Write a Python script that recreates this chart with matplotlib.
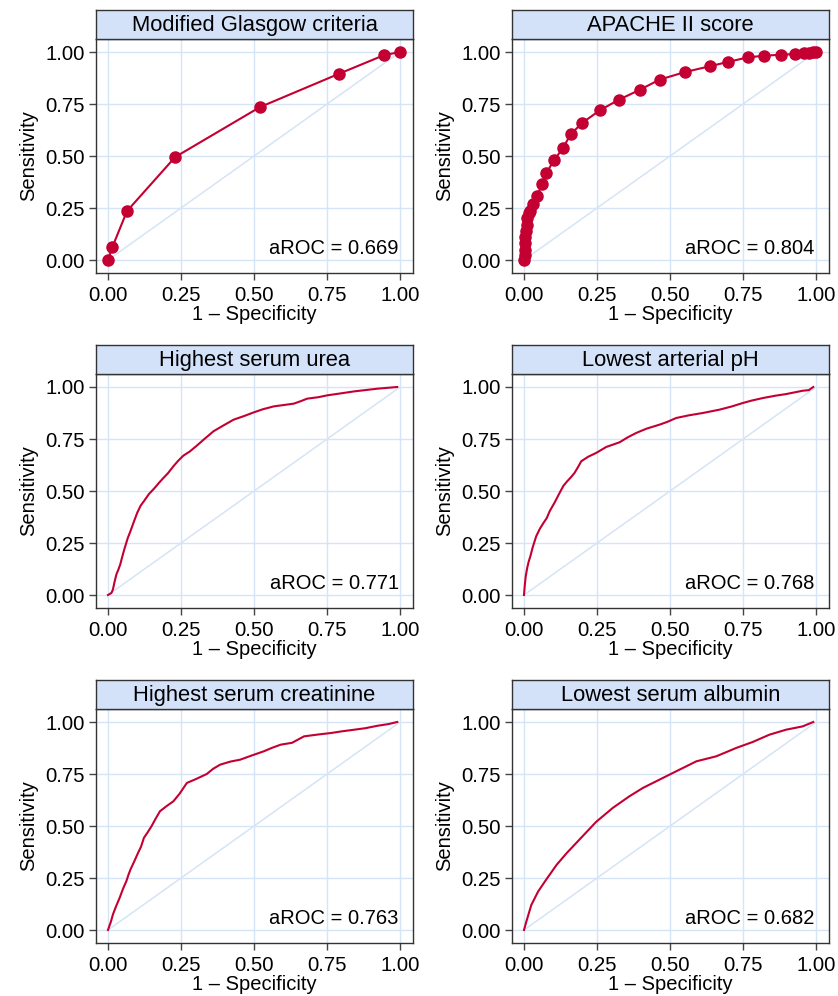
import matplotlib.pyplot as plt

plt.rcParams['font.family'] = ['Liberation Sans', 'DejaVu Sans']

LINE_RED = '#c40032'
GRID_BLUE = '#d6e4f7'
STRIP_BLUE = '#d3e2f9'

# Modified Glasgow criteria (discrete cut-points)
glasgow_fpr = [0.0, 0.015, 0.065, 0.23, 0.52, 0.79, 0.945, 1.0]
glasgow_tpr = [0.0, 0.062, 0.235, 0.495, 0.735, 0.895, 0.985, 1.0]

# APACHE II score (discrete cut-points)
apache_fpr = [0.0, 0.002, 0.003, 0.004, 0.005, 0.007, 0.009, 0.012, 0.016, 0.022,
              0.03, 0.046, 0.062, 0.076, 0.103, 0.133, 0.16, 0.2, 0.26, 0.324,
              0.396, 0.464, 0.552, 0.635, 0.70, 0.766, 0.82, 0.88, 0.926, 0.96,
              0.975, 0.988, 1.0]
apache_tpr = [0.0, 0.025, 0.05, 0.08, 0.11, 0.14, 0.17, 0.2, 0.225, 0.235,
              0.27, 0.31, 0.365, 0.417, 0.48, 0.537, 0.605, 0.66, 0.72, 0.77,
              0.818, 0.867, 0.904, 0.931, 0.953, 0.974, 0.982, 0.987, 0.99, 0.995,
              0.997, 0.999, 1.0]

# continuous markers
urea_fpr = [0.0, 0.012, 0.017, 0.022, 0.029, 0.035, 0.042, 0.05, 0.056, 0.061,
            0.068, 0.077, 0.088, 0.1, 0.112, 0.123, 0.14, 0.16, 0.175, 0.19,
            0.205, 0.224, 0.24, 0.258, 0.28, 0.304, 0.33, 0.361, 0.395, 0.43,
            0.465, 0.499, 0.53, 0.568, 0.6, 0.636, 0.66, 0.682, 0.72, 0.751,
            0.8, 0.843, 0.88, 0.923, 0.99]
urea_tpr = [0.0, 0.01, 0.027, 0.06, 0.1, 0.12, 0.147, 0.19, 0.22, 0.243,
            0.275, 0.307, 0.35, 0.395, 0.43, 0.451, 0.485, 0.515, 0.54, 0.563,
            0.585, 0.619, 0.645, 0.67, 0.69, 0.718, 0.75, 0.787, 0.815, 0.843,
            0.86, 0.878, 0.893, 0.907, 0.913, 0.92, 0.932, 0.944, 0.951, 0.96,
            0.97, 0.979, 0.985, 0.992, 1.0]

ph_fpr = [0.0, 0.003, 0.006, 0.011, 0.016, 0.022, 0.03, 0.042, 0.055, 0.067, 0.078,
          0.088, 0.105, 0.122, 0.135, 0.148, 0.16, 0.173, 0.185, 0.196, 0.22, 0.247,
          0.282, 0.327, 0.355, 0.384, 0.42, 0.464, 0.49, 0.521, 0.565, 0.612, 0.669,
          0.71, 0.749, 0.78, 0.818, 0.86, 0.897, 0.954, 0.975, 0.99]
ph_tpr = [0.0, 0.05, 0.09, 0.13, 0.16, 0.187, 0.23, 0.283, 0.32, 0.347, 0.37,
          0.403, 0.445, 0.491, 0.525, 0.547, 0.565, 0.587, 0.615, 0.643, 0.665, 0.683,
          0.712, 0.734, 0.758, 0.779, 0.8, 0.819, 0.832, 0.851, 0.864, 0.875, 0.891,
          0.906, 0.923, 0.935, 0.947, 0.958, 0.966, 0.982, 0.985, 1.0]

creat_fpr = [0.0, 0.01, 0.017, 0.028, 0.04, 0.052, 0.063, 0.07, 0.077, 0.09, 0.103,
             0.113, 0.123, 0.136, 0.149, 0.163, 0.178, 0.2, 0.224, 0.245, 0.27, 0.3,
             0.338, 0.36, 0.384, 0.42, 0.453, 0.49, 0.533, 0.56, 0.591, 0.63, 0.671,
             0.72, 0.763, 0.8, 0.843, 0.88, 0.923, 0.96, 0.99]
creat_tpr = [0.0, 0.04, 0.075, 0.115, 0.155, 0.2, 0.235, 0.265, 0.291, 0.33, 0.371,
             0.4, 0.443, 0.47, 0.499, 0.535, 0.571, 0.595, 0.619, 0.655, 0.707, 0.725,
             0.75, 0.775, 0.795, 0.81, 0.819, 0.838, 0.859, 0.875, 0.891, 0.9, 0.931,
             0.94, 0.947, 0.955, 0.963, 0.97, 0.982, 0.99, 1.0]

alb_fpr = [0.0, 0.008, 0.025, 0.048, 0.071, 0.111, 0.145, 0.19, 0.247, 0.304, 0.361,
           0.407, 0.464, 0.521, 0.59, 0.658, 0.726, 0.783, 0.84, 0.897, 0.954, 0.99]
alb_tpr = [0.0, 0.04, 0.12, 0.184, 0.232, 0.312, 0.368, 0.435, 0.52, 0.587, 0.643,
           0.683, 0.723, 0.763, 0.811, 0.835, 0.875, 0.904, 0.939, 0.963, 0.979, 1.0]

titles = ['Modified Glasgow criteria', 'APACHE II score',
          'Highest serum urea', 'Lowest arterial pH',
          'Highest serum creatinine', 'Lowest serum albumin']
arocs = ['0.669', '0.804', '0.771', '0.768', '0.763', '0.682']
curves = [(glasgow_fpr, glasgow_tpr), (apache_fpr, apache_tpr),
          (urea_fpr, urea_tpr), (ph_fpr, ph_tpr),
          (creat_fpr, creat_tpr), (alb_fpr, alb_tpr)]
with_markers = [True, True, False, False, False, False]

W, H = 838, 996
fig = plt.figure(figsize=(W / 100, H / 100), dpi=100)

col_px = [(96, 413), (512, 829)]
row_px = [(10, 39, 273), (345, 374, 608), (680, 709, 943)]
ticks = [0, 0.25, 0.5, 0.75, 1.0]

for i, title in enumerate(titles):
    r, c = divmod(i, 2)
    x0, x1 = col_px[c]
    st, pt, pb = row_px[r]
    ax = fig.add_axes([x0 / W, 1 - pb / H, (x1 - x0) / W, (pb - pt) / H])
    strip = fig.add_axes([x0 / W, 1 - pt / H, (x1 - x0) / W, (pt - st) / H])
    strip.set_facecolor(STRIP_BLUE)
    strip.set_xticks([])
    strip.set_yticks([])
    for s in strip.spines.values():
        s.set_color('#333333')
        s.set_linewidth(1.0)
    strip.text(0.5, 0.48, title, ha='center', va='center', fontsize=15.8,
               transform=strip.transAxes)

    ax.plot([0, 1], [0, 1], color=GRID_BLUE, lw=1.1, zorder=1)
    fpr, tpr = curves[i]
    if with_markers[i]:
        ax.plot(fpr, tpr, color=LINE_RED, lw=1.5, marker='o', markersize=8,
                zorder=3)
    else:
        ax.plot(fpr, tpr, color=LINE_RED, lw=1.5, zorder=3)
    ax.text(0.995, 0.055, f'aROC = {arocs[i]}', ha='right', va='center',
            fontsize=14.5)

    ax.set_xlim(-0.041, 1.044)
    ax.set_ylim(-0.0625, 1.0625)
    ax.set_xticks(ticks)
    ax.set_yticks(ticks)
    ax.set_xticklabels([f'{t:.2f}' for t in ticks])
    ax.set_yticklabels([f'{t:.2f}' for t in ticks])
    ax.grid(True, color=GRID_BLUE, lw=1.0, zorder=0)
    ax.set_axisbelow(True)
    ax.tick_params(labelsize=14.7, length=5, width=1, color='#444444', pad=3)
    ax.tick_params(axis='x', pad=4)
    ax.set_xlabel('1 \u2013 Specificity', fontsize=14.5, labelpad=0)
    ax.set_ylabel('Sensitivity', fontsize=14.5, labelpad=5)
    for s in ax.spines.values():
        s.set_color('#333333')
        s.set_linewidth(1.0)

plt.savefig('out.png', dpi=100)
plt.close()
